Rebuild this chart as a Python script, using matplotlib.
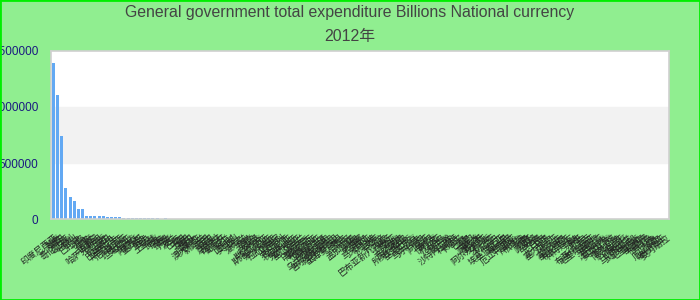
"""Bar chart: general government total expenditure, 2012 (headless / Agg)."""

import matplotlib

matplotlib.use("Agg")
import matplotlib.pyplot as plt  # noqa: E402
from matplotlib.patches import Rectangle  # noqa: E402

countries = [
    "印度尼西亚", "越南", "韩国", "哥伦比亚", "匈牙利", "智利", "巴拉圭", "冰岛",
    "日本", "印度", "菲律宾", "哈萨克斯坦", "俄罗斯", "泰国", "巴基斯坦", "斯里兰卡",
    "尼日利亚", "肯尼亚", "坦桑尼亚", "乌干达", "阿根廷", "墨西哥", "南非", "埃及",
    "土耳其", "捷克", "瑞典", "挪威", "丹麦", "波兰", "巴西", "中国",
    "美国", "英国", "加拿大", "澳大利亚", "新西兰", "德国", "法国", "意大利",
    "西班牙", "葡萄牙", "荷兰", "比利时", "奥地利", "瑞士", "爱尔兰", "希腊",
    "芬兰", "卢森堡", "斯洛伐克", "斯洛文尼亚", "爱沙尼亚", "拉脱维亚", "立陶宛", "以色列",
    "罗马尼亚", "保加利亚", "克罗地亚", "塞尔维亚", "乌克兰", "白俄罗斯", "摩尔多瓦", "格鲁吉亚",
    "亚美尼亚", "阿塞拜疆", "乌兹别克斯坦", "吉尔吉斯斯坦", "塔吉克斯坦", "土库曼斯坦", "蒙古", "尼泊尔",
    "孟加拉国", "缅甸", "柬埔寨", "老挝", "马来西亚", "新加坡", "文莱", "东帝汶",
    "巴布亚新几内亚", "斐济", "萨摩亚", "汤加", "瓦努阿图", "所罗门群岛", "基里巴斯", "图瓦卢",
    "马尔代夫", "不丹", "阿富汗", "伊朗", "伊拉克", "叙利亚", "约旦", "黎巴嫩",
    "沙特阿拉伯", "科威特", "卡塔尔", "巴林", "阿曼", "也门", "阿联酋", "摩洛哥",
    "阿尔及利亚", "突尼斯", "利比亚", "苏丹", "埃塞俄比亚", "索马里", "吉布提", "厄立特里亚",
    "卢旺达", "布隆迪", "刚果", "加蓬", "喀麦隆", "乍得", "尼日尔", "马里",
    "塞内加尔", "冈比亚", "几内亚", "塞拉利昂", "利比里亚", "科特迪瓦", "加纳", "多哥",
    "贝宁", "布基纳法索", "毛里塔尼亚", "安哥拉", "赞比亚", "津巴布韦", "莫桑比克", "马拉维",
    "博茨瓦纳", "纳米比亚", "莱索托", "斯威士兰", "马达加斯加", "毛里求斯", "塞舌尔", "科摩罗",
    "佛得角", "秘鲁", "厄瓜多尔", "玻利维亚", "委内瑞拉",
]

expenditure = [
    1395000, 1105000, 745000, 280000, 192000, 165000, 88000, 88000,
    27000, 27000, 26000, 26000, 26000, 17000, 16000, 16000,
    15000, 9000, 9000, 8800, 8500, 8500, 8200, 8000,
    8000, 7800, 1500, 7500, 900, 800, 750, 700,
    650, 600, 560, 520, 500, 480, 450, 420,
    400, 380, 360, 340, 320, 300, 290, 280,
    270, 260, 250, 240, 230, 220, 210, 200,
    190, 180, 170, 160, 150, 145, 140, 135,
    130, 125, 120, 115, 110, 105, 100, 95,
    90, 85, 80, 78, 76, 74, 72, 70,
    68, 66, 64, 62, 60, 58, 56, 54,
    52, 50, 48, 46, 44, 42, 40, 38,
    36, 34, 32, 30, 29, 28, 27, 26,
    25, 24, 23, 22, 21, 20, 19, 18,
    17, 16, 15, 14, 13, 12, 11, 10,
    10, 9, 9, 8, 8, 7, 7, 6,
    6, 5, 5, 5, 4, 4, 4, 3,
    3, 3, 3, 2, 2, 2, 2, 2,
    1, 1, 1, 1, 1,
]

yticks = [0, 500000, 1000000, 1500000]
title = "General government total expenditure Billions National currency"
subtitle = "2012年"

fonts = ["Liberation Sans", "Noto Sans CJK SC", "DejaVu Sans"]
plt.rcParams["font.family"] = fonts

fig = plt.figure(figsize=(7, 3), dpi=100, facecolor="#90ee90")
ax = fig.add_axes([51 / 700, 81 / 300, 618 / 700, 168 / 300])
ax.set_facecolor("white")

ax.axhspan(500000, 1000000, color="#f2f2f2", zorder=0)
x = range(len(countries))
ax.bar(x, expenditure, width=0.72, color="#63a9f3", zorder=2)

ax.set_xlim(-0.6, len(countries) - 0.4)
ax.set_ylim(0, 1500000)
ax.set_yticks(yticks)
ax.set_yticklabels([str(v) for v in yticks], fontsize=8.5, color="#1a1a80")
ax.tick_params(axis="y", length=0, pad=9)
ax.set_xticks(list(x))
ax.set_xticklabels(
    countries, rotation=38, ha="right", rotation_mode="anchor",
    fontsize=6.3, color="#222222", family=["Noto Sans CJK SC", "DejaVu Sans"],
)
ax.tick_params(axis="x", length=0, pad=10)
for s in ax.spines.values():
    s.set_color("#d0d0d0")
    s.set_linewidth(1.2)

fig.text(0.5, 1 - 13 / 300, title, ha="center", va="center", fontsize=11.4, color="#444444")
fig.text(0.5, 1 - 37 / 300, subtitle, ha="center", va="center", fontsize=11.4, color="#444444")

fig.patches.append(
    Rectangle((0, 0), 1, 1, transform=fig.transFigure, fill=False,
              edgecolor="#00ee00", linewidth=2)
)

fig.savefig("out.png", dpi=100, facecolor=fig.get_facecolor())
plt.close(fig)
